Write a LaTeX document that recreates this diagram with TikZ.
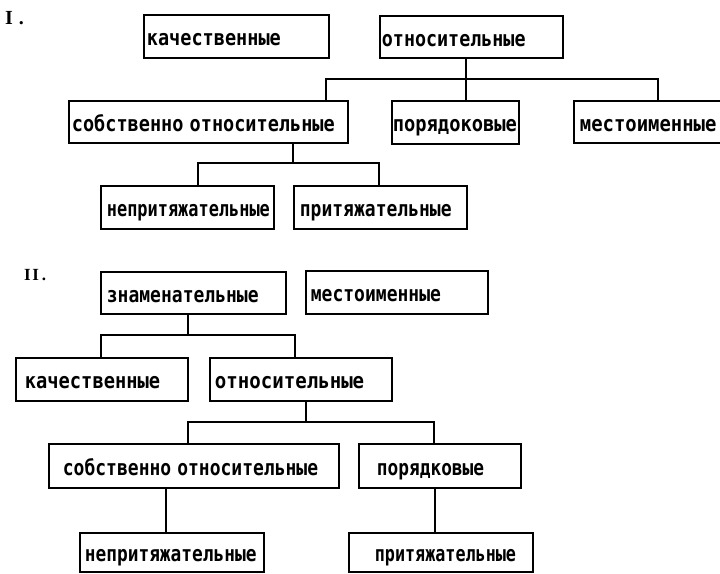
\documentclass[tikz,border=0pt]{standalone}
\usepackage{fontspec}
\usepackage{graphicx}
\newfontfamily\cellfont{DejaVu Sans Mono}
\newfontfamily\numfont{Liberation Serif}

% one labelled box: name, x1, y1, x2, y2, left pad, horizontal scale, text
\newcommand{\boxcell}[8]{%
  \pgfmathsetmacro\bcw{#4-#2}%
  \pgfmathsetmacro\bch{#5-#3}%
  \node[cell, text width=\bcw pt, minimum width=\bcw pt, minimum height=\bch pt]
    (#1) at (#2,#3) {\hspace*{#6pt}\scalebox{#7}[1.2]{#8}};%
}

\tikzset{
  cell/.style={draw, line width=1.8pt, anchor=north west, inner xsep=0pt,
    inner ysep=0pt, align=left, text height=19pt, text depth=0pt,
    font=\cellfont\bfseries\fontsize{18}{20}\selectfont},
  link/.style={line width=1.5pt},
  num/.style={anchor=base west, inner sep=0pt}
}

\begin{document}
\begin{tikzpicture}[x=1pt, y=-1pt]
\clip (0,0) rectangle (720,573);
\fill[white] (0,0) rectangle (720,573);

% ---- scheme I ----
\node[num] (numI) at (5,24)
  {\numfont\bfseries\fontsize{20}{22}\selectfont I\hspace{6pt}.};

\boxcell{kachI}{143}{14}{328}{57}{3}{1.03}{качественные}
\boxcell{otnI}{379}{15}{562}{57}{2}{1.02}{относительные}
\boxcell{sobstI}{68}{100}{347}{142}{3}{1.03}{собственно относительные}
\boxcell{poryadI}{391}{100}{518}{143}{1}{1.04}{порядоковые}
\boxcell{mestI}{573}{100}{725}{142}{6}{1.05}{местоименные}
\boxcell{neprI}{100}{185}{273}{228}{6}{0.94}{непритяжательные}
\boxcell{pritI}{293}{185}{466}{228}{6}{1.0}{притяжательные}

\coordinate (aTop) at (466,79);
\coordinate (aL) at (326,79);
\coordinate (aR) at (658,79);
\draw[link] (otnI.south -| aTop) -- (aTop);
\draw[link] (sobstI.north -| aL) -- (aL) -- (aR) -- (mestI.north -| aR);
\draw[link] (aTop) -- (poryadI.north -| aTop);

\coordinate (bTop) at (293,163);
\coordinate (bL) at (198,163);
\coordinate (bR) at (379,163);
\draw[link] (sobstI.south -| bTop) -- (bTop);
\draw[link] (neprI.north -| bL) -- (bL) -- (bR) -- (pritI.north -| bR);

% ---- scheme II ----
\node[num] (numII) at (24,280)
  {\numfont\bfseries\fontsize{17}{19}\selectfont I\kern1.5pt I\kern3pt.};

\boxcell{znam}{100}{271}{285}{313}{6}{1.0}{знаменательные}
\boxcell{mestII}{305}{270}{487}{313}{5}{1.0}{местоименные}
\boxcell{kachII}{15}{357}{187}{400}{9}{1.04}{качественные}
\boxcell{otnII}{209}{357}{391}{400}{5}{1.06}{относительные}
\boxcell{sobstII}{48}{443}{338}{487}{14}{1.0}{собственно относительные}
\boxcell{poryadII}{358}{443}{520}{487}{18}{0.99}{порядковые}
\boxcell{neprII}{79}{532}{263}{571}{5}{0.99}{непритяжательные}
\boxcell{pritII}{348}{532}{532}{571}{26}{0.93}{притяжательные}

\coordinate (cTop) at (188,335);
\coordinate (cL) at (101,335);
\coordinate (cR) at (295,335);
\draw[link] (znam.south -| cTop) -- (cTop);
\draw[link] (kachII.north -| cL) -- (cL) -- (cR) -- (otnII.north -| cR);

\coordinate (dTop) at (306,422);
\coordinate (dL) at (188,422);
\coordinate (dR) at (434,422);
\draw[link] (otnII.south -| dTop) -- (dTop);
\draw[link] (sobstII.north -| dL) -- (dL) -- (dR) -- (poryadII.north -| dR);

\coordinate (eX) at (166,510);
\coordinate (fX) at (435,510);
\draw[link] (sobstII.south -| eX) -- (neprII.north -| eX);
\draw[link] (poryadII.south -| fX) -- (pritII.north -| fX);
\end{tikzpicture}
\end{document}
